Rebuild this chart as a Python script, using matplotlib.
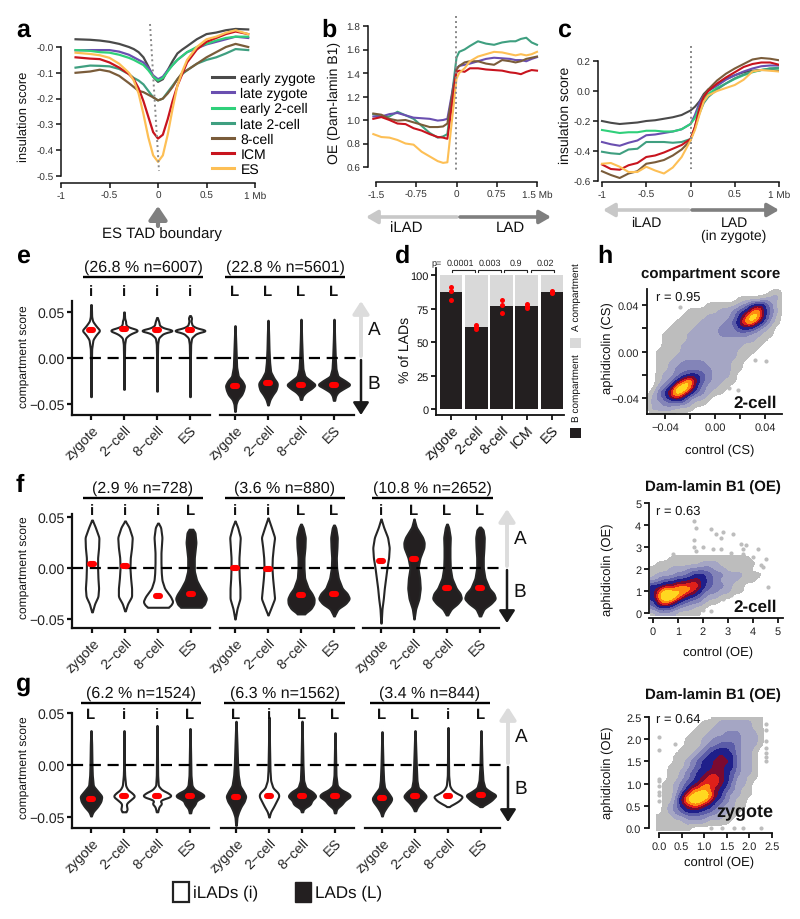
import numpy as np
import matplotlib
matplotlib.use("Agg")
import matplotlib.pyplot as plt
from matplotlib.colors import ListedColormap, BoundaryNorm
from matplotlib.patches import Rectangle
from matplotlib.lines import Line2D

plt.rcParams['font.family'] = ['Liberation Sans', 'DejaVu Sans']
plt.rcParams['text.hinting'] = 'no_hinting'
plt.rcParams['text.hinting_factor'] = 1
W, H = 800, 920
DARK = '#231f20'

# ---------- panel a ----------
A_STAGES = ['early zygote', 'late zygote', 'early 2-cell', 'late 2-cell', '8-cell', 'ICM', 'ES']
A_COLORS = ['#4a4a4a', '#6a4fb0', '#2fd07a', '#3f9f80', '#7a5c3a', '#c8141e', '#fdbf55']
A_X = [-.85,-.7,-.6,-.5,-.4,-.3,-.25,-.2,-.15,-.1,-.05,0,.05,.1,.15,.2,.25,.3,.4,.5,.6,.7,.8,.93]
A_EZ = [.03,.028,.025,.02,.012,0,-.008,-.02,-.04,-.075,-.115,-.135,-.125,-.09,-.055,-.025,-.01,.003,.03,.05,.056,.065,.07,.068]
A_LZ = [-.013,-.012,-.012,-.012,-.018,-.03,-.04,-.05,-.06,-.08,-.11,-.125,-.115,-.09,-.07,-.05,-.035,-.02,-.005,.01,.02,.03,.04,.035]
A_E2 = [-.012,-.015,-.02,-.022,-.03,-.042,-.05,-.06,-.07,-.09,-.115,-.13,-.12,-.095,-.07,-.05,-.035,-.02,0,.012,.025,.035,.04,.04]
A_L2 = [-.08,-.072,-.073,-.075,-.085,-.105,-.12,-.13,-.145,-.17,-.195,-.207,-.2,-.175,-.15,-.125,-.105,-.09,-.065,-.05,-.04,-.025,-.008,-.012]
A_8C = [-.1,-.095,-.088,-.095,-.112,-.14,-.155,-.17,-.175,-.185,-.195,-.207,-.2,-.18,-.155,-.125,-.1,-.09,-.065,-.04,-.02,0,.012,0]
A_ICM = [-.04,-.045,-.047,-.06,-.08,-.105,-.125,-.16,-.21,-.27,-.33,-.355,-.34,-.28,-.21,-.15,-.105,-.06,-.01,.02,.035,.05,.06,.05]
A_ES = [-.022,-.027,-.032,-.042,-.065,-.1,-.13,-.18,-.26,-.35,-.42,-.445,-.42,-.34,-.24,-.15,-.095,-.05,0,.03,.04,.055,.065,.05]
A_SERIES = [A_EZ, A_LZ, A_E2, A_L2, A_8C, A_ICM, A_ES]

# ---------- panel b ----------
B_X = [-1.55,-1.4,-1.25,-1.1,-.95,-.8,-.65,-.5,-.35,-.25,-.17,0,.05,.15,.25,.4,.55,.7,.85,1,1.1,1.2,1.3,1.4,1.5]
B_L2 = [1.05,1.03,1.03,1.07,1.04,1.01,.95,.89,.85,.86,.88,1.53,1.58,1.6,1.63,1.67,1.65,1.64,1.66,1.67,1.67,1.69,1.7,1.66,1.64]
B_LZ = [1.03,1.03,1.05,1.06,1.04,1.02,1.015,1.01,.995,1.0,1.01,1.44,1.46,1.47,1.48,1.5,1.52,1.53,1.525,1.52,1.51,1.51,1.5,1.52,1.535]
B_8C = [1.055,1.045,1.01,.995,1.0,.98,.96,.94,.94,.945,.97,1.43,1.46,1.49,1.5,1.5,1.48,1.47,1.51,1.5,1.49,1.5,1.52,1.53,1.54]
B_ICM = [1.01,1.025,1.0,.97,.965,.93,.91,.88,.855,.85,.84,1.41,1.42,1.41,1.44,1.44,1.43,1.425,1.42,1.405,1.4,1.39,1.41,1.425,1.42]
B_ES = [.88,.855,.85,.83,.80,.79,.73,.69,.65,.635,.64,1.35,1.4,1.44,1.5,1.54,1.56,1.58,1.575,1.56,1.55,1.56,1.55,1.56,1.58]
B_SERIES = [(B_L2, 3), (B_LZ, 1), (B_8C, 4), (B_ICM, 5), (B_ES, 6)]

# ---------- panel c ----------
C_X = [-1,-.9,-.8,-.7,-.6,-.5,-.4,-.3,-.2,-.1,0,.05,.1,.15,.2,.3,.4,.5,.6,.7,.8,.9,1]
C_EZ = [-.2,-.212,-.22,-.215,-.21,-.2,-.195,-.185,-.175,-.16,-.13,-.105,-.07,-.02,.01,.04,.08,.105,.125,.135,.14,.14,.135]
C_E2 = [-.26,-.27,-.28,-.275,-.275,-.265,-.265,-.27,-.27,-.255,-.22,-.18,-.11,-.06,-.02,.02,.05,.08,.105,.125,.14,.15,.15]
C_LZ = [-.34,-.355,-.365,-.345,-.33,-.295,-.29,-.28,-.27,-.255,-.22,-.16,-.08,-.03,0,.035,.075,.105,.13,.15,.165,.17,.17]
C_L2 = [-.405,-.415,-.42,-.39,-.385,-.34,-.34,-.34,-.345,-.34,-.32,-.25,-.15,-.08,-.04,.01,.05,.085,.11,.13,.14,.15,.155]
C_8C = [-.535,-.56,-.58,-.55,-.535,-.485,-.475,-.46,-.43,-.39,-.33,-.24,-.12,-.03,.01,.07,.115,.15,.18,.21,.22,.215,.205]
C_ICM = [-.49,-.52,-.525,-.495,-.48,-.44,-.43,-.41,-.385,-.36,-.32,-.24,-.12,-.04,0,.05,.09,.125,.16,.18,.19,.19,.175]
C_ES = [-.485,-.48,-.505,-.54,-.54,-.505,-.53,-.55,-.51,-.44,-.33,-.26,-.16,-.07,-.03,0,.02,.04,.075,.13,.14,.135,.13]
C_SERIES = [(C_EZ, 0), (C_LZ, 1), (C_E2, 2), (C_L2, 3), (C_8C, 4), (C_ICM, 5), (C_ES, 6)]

# ---------- panel d ----------
D_CATS = ['zygote', '2-cell', '8-cell', 'ICM', 'ES']
D_B = [87, 61, 77, 77, 87]
D_DOTS = [[91, 88, 81], [62.5, 61, 60], [81, 77.5, 72], [78, 77, 75.5], [88, 87, 86.5]]
D_P = ['0.0001', '0.003', '0.9', '0.02']

# ---------- violins: (class, y knots, half-width knots, median) ----------
V_CATS = ['zygote', '2\u2212cell', '8\u2212cell', 'ES']
E1 = [
 ('i', [-.042,-.01,.01,.02,.025,.03,.035,.04,.045,.058], [.01,.01,.02,.06,.15,.27,.15,.05,.02,.01], .03),
 ('i', [-.034,-.005,.015,.022,.026,.03,.032,.034,.037,.04,.043,.05], [.01,.01,.02,.05,.18,.45,.3,.1,.05,.05,.02,.01], .031),
 ('i', [-.036,-.005,.015,.022,.027,.03,.032,.035,.04,.044], [.01,.01,.02,.05,.2,.55,.25,.08,.05,.01], .03),
 ('i', [-.042,-.005,.015,.022,.027,.03,.032,.035,.04,.044,.046], [.01,.01,.02,.05,.2,.55,.25,.07,.03,.05,.01], .03)]
E2 = [
 ('L', [-.058,-.05,-.045,-.04,-.035,-.03,-.025,-.02,-.01,0,.01,.02,.035], [.01,.03,.08,.2,.26,.29,.22,.1,.05,.04,.03,.02,.005], -.03),
 ('L', [-.051,-.045,-.04,-.035,-.03,-.027,-.022,-.015,-.005,.01,.025,.041], [.01,.06,.14,.24,.28,.28,.18,.08,.05,.03,.02,.005], -.027),
 ('L', [-.045,-.041,-.037,-.033,-.029,-.025,-.02,-.012,0,.02,.042], [.02,.05,.15,.32,.44,.3,.12,.06,.04,.02,.005], -.029),
 ('L', [-.046,-.041,-.037,-.033,-.029,-.025,-.02,-.012,0,.02,.042], [.02,.05,.12,.3,.5,.35,.12,.06,.04,.02,.005], -.029)]
F1 = [
 ('i', [-.043,-.035,-.028,-.02,-.01,0,.01,.02,.03,.04,.047], [.01,.08,.18,.2,.18,.17,.17,.2,.21,.1,.01], .004),
 ('i', [-.042,-.035,-.028,-.02,-.01,0,.01,.02,.03,.04,.046], [.01,.08,.2,.2,.17,.15,.16,.2,.22,.12,.01], .002),
 ('i', [-.0385,-.037,-.033,-.028,-.02,-.012,-.005,.005,.015,.03,.04,.044], [.3,.38,.45,.38,.2,.12,.1,.09,.09,.12,.08,.01], -.027),
 ('L', [-.0385,-.036,-.03,-.026,-.02,-.012,-.003,.01,.025,.035,.038], [.3,.4,.47,.42,.3,.17,.1,.1,.15,.12,.05], -.025)]
F2 = [
 ('i', [-.05,-.04,-.03,-.02,-.01,0,.01,.02,.03,.04,.046], [.005,.06,.15,.15,.13,.12,.12,.14,.16,.08,.005], 0),
 ('i', [-.046,-.04,-.03,-.02,-.01,0,.01,.02,.03,.04,.049], [.005,.08,.2,.17,.14,.12,.13,.16,.2,.1,.005], -.001),
 ('L', [-.045,-.04,-.035,-.03,-.025,-.02,-.01,0,.01,.02,.03,.04,.043], [.1,.3,.39,.4,.33,.22,.11,.09,.09,.12,.13,.06,.01], -.026),
 ('L', [-.047,-.04,-.035,-.03,-.025,-.02,-.01,0,.01,.02,.03,.04,.042], [.01,.12,.35,.47,.4,.25,.13,.08,.07,.09,.1,.05,.01], -.025)]
F3 = [
 ('i', [-.054,-.04,-.03,-.02,-.01,0,.01,.02,.03,.04,.048], [.005,.03,.07,.1,.14,.18,.23,.25,.2,.08,.005], .007),
 ('L', [-.05,-.04,-.03,-.02,-.01,0,.01,.02,.025,.03,.04,.048], [.005,.05,.15,.19,.17,.12,.18,.3,.31,.26,.07,.005], .009),
 ('L', [-.046,-.04,-.035,-.03,-.025,-.02,-.01,0,.01,.02,.03,.04,.043], [.02,.13,.32,.44,.4,.28,.15,.1,.09,.09,.1,.05,.01], -.02),
 ('L', [-.047,-.04,-.035,-.03,-.025,-.02,-.01,0,.01,.02,.03,.038,.04], [.02,.12,.33,.47,.42,.28,.15,.1,.1,.12,.13,.09,.01], -.02)]
G1 = [
 ('L', [-.049,-.045,-.04,-.035,-.03,-.025,-.02,-.01,0,.02,.033], [.01,.06,.2,.3,.33,.2,.07,.04,.03,.02,.005], -.033),
 ('i', [-.045,-.043,-.04,-.037,-.034,-.03,-.027,-.024,-.02,-.01,0,.033], [.05,.1,.08,.07,.18,.33,.25,.12,.05,.02,.01,.005], -.03),
 ('i', [-.045,-.04,-.037,-.034,-.03,-.027,-.024,-.02,-.01,.038], [.02,.06,.15,.08,.45,.35,.15,.04,.02,.005], -.03),
 ('L', [-.046,-.042,-.038,-.034,-.03,-.027,-.024,-.02,-.01,.035], [.02,.05,.15,.2,.45,.35,.15,.06,.03,.005], -.03)]
G2 = [
 ('L', [-.058,-.05,-.045,-.04,-.035,-.03,-.025,-.02,-.01,0,.02,.042], [.01,.03,.08,.15,.25,.3,.22,.12,.07,.05,.03,.005], -.031),
 ('i', [-.05,-.045,-.04,-.035,-.03,-.027,-.022,-.015,-.005,.02,.046], [.005,.05,.14,.22,.3,.28,.12,.05,.03,.015,.005], -.03),
 ('L', [-.045,-.042,-.038,-.034,-.03,-.026,-.022,-.015,0,.042], [.02,.05,.25,.3,.43,.33,.12,.05,.03,.005], -.03),
 ('L', [-.046,-.042,-.038,-.034,-.03,-.027,-.024,-.02,-.01,.031], [.02,.05,.2,.3,.48,.4,.2,.07,.03,.005], -.03)]
G3 = [
 ('L', [-.049,-.045,-.04,-.035,-.032,-.028,-.022,-.015,0,.032], [.01,.05,.15,.27,.3,.22,.08,.05,.03,.005], -.032),
 ('L', [-.044,-.04,-.036,-.033,-.03,-.026,-.022,-.015,0,.033], [.02,.08,.18,.28,.35,.25,.1,.06,.04,.005], -.03),
 ('i', [-.04,-.037,-.034,-.03,-.027,-.024,-.02,-.01,.036], [.02,.2,.35,.45,.25,.12,.05,.02,.005], -.03),
 ('L', [-.04,-.037,-.034,-.029,-.026,-.022,-.015,0,.033], [.02,.18,.32,.47,.3,.12,.06,.03,.005], -.029)]

# ---------- panel h: density levels (0 empty ... 9 peak) ----------
H_LEVELS = ['#bdbdbd', '#a5a6c4', '#8384b8', '#5b5ca8', '#1f1f8a', '#7a0a30', '#e0201a', '#ff8a10', '#ffd820']
H1_X = (-.055, .055)
H1_GRID = [
 "00000000000000000000000",
 "00000000000000000000120",
 "00000000000000011112220",
 "00000000001111123565310",
 "00000001111122345785320",
 "00000011112222357985310",
 "00000111122223468864210",
 "00001111222233355532100",
 "00011112222233333221100",
 "00011112222222222211000",
 "00011122222222221110000",
 "00111122222222211100000",
 "00111222222222211000000",
 "00112233332222110000000",
 "00112333333222110000000",
 "00122345543222100000000",
 "00123578643221100000000",
 "00235898532211000000000",
 "01357986432110000000000",
 "02346753221000000000000",
 "02233332110000000000000",
 "02222111000000000000000",
 "00000000000000000000000"]
H1_OUT_X = [-.0175, -.021, -.005, .032, .041, .011, .018, -.028, -.042]
H1_OUT_Y = [.036, .033, .038, -.007, -.008, -.031, -.033, .038, -.002]
H2_X = (0, 5)
H2_GRID = ["0" * 21] * 10 + [
 "000111111111111100000",
 "011111112221111110000",
 "111222333322111100000",
 "122233455433222111000",
 "234455665432221110000",
 "556677775433211000000",
 "579888764332211000000",
 "589986543221100000000",
 "478754332110000000000",
 "355432211000000000000",
 "122211110000000000000"]
H2_OUT_X = [1.65,1.7,2.3,2.5,2.8,3.2,2.7,3.5,3.7,3.6,4.2,2.0,1.65,1.65,1.7,2.4,2.7,3.1,3.6,4.0,4.5,4.4,4.3,4.6,.35,.8,2,2.3,3.1,2.8]
H2_OUT_Y = [4.2,3.85,3.8,3.6,3.7,3.6,3.4,3.15,3.1,2.9,2.9,3.0,3.3,3.0,2.8,2.9,2.9,2.75,2.7,2.55,2.45,2.1,2.2,1.2,2.25,2.7,.15,.1,.8,.65]
H3_X = (0, 2.5)
H3_GRID = [
 "000000000011111111100",
 "000000001112222221100",
 "000000011122222221100",
 "000000111222333222100",
 "000001112233333222100",
 "000001112334443222100",
 "000011123455543221000",
 "000111234556553221000",
 "000112345566653221000",
 "001112345566553221000",
 "001123455666543221000",
 "001123456776542211000",
 "011234567776532210000",
 "011235778765432110000",
 "011257899865322110000",
 "011368998754321100000",
 "012356776543221100000",
 "012345554432211000000",
 "111223333222110000000",
 "111112222111100000000",
 "111111000000000000000"]
H3_OUT_X = [0,0,0,0,0,0,0,0,.35,2.37,2.37,2.37,2.37,2.37,2.37,2.37,1.15,1.4,1.65,2.25,1.85]
H3_OUT_Y = [2.05,1.75,1.1,1.05,.95,.8,.75,.6,1.9,2.35,2.2,1.95,1.8,1.7,1.6,1.5,0,0,0,0,0]

fig = plt.figure(figsize=(W / 100, H / 100), dpi=100)
ov = fig.add_axes([0, 0, 1, 1], zorder=10)
ov.set_xlim(0, W); ov.set_ylim(H, 0); ov.axis('off'); ov.patch.set_visible(False)


def axpx(x0, ytop, x1, ybot):
    return fig.add_axes([x0 / W, 1 - ybot / H, (x1 - x0) / W, (ybot - ytop) / H])


def lin(p0, v0, p1, v1, p):
    return v0 + (p - p0) * (v1 - v0) / (p1 - p0)


def style(ax, lw=1.1, tick=7.4, color='#333333', length=3.5):
    for s in ('top', 'right'):
        ax.spines[s].set_visible(False)
    for s in ('left', 'bottom'):
        ax.spines[s].set_linewidth(lw)
        ax.spines[s].set_color('#111111')
    ax.tick_params(labelsize=tick, width=lw, length=length, pad=2, labelcolor=color, color='#111111')
    ax.patch.set_visible(False)


def arrow(x0, y0, x1, y1, color, lw=2.6, ms=11, hw=0.36):
    ov.annotate('', xy=(x1, y1), xytext=(x0, y0),
                arrowprops=dict(arrowstyle=f'-|>,head_width={hw},head_length=0.62', color=color, lw=lw,
                                mutation_scale=ms, shrinkA=0, shrinkB=0))


def letter(s, x, y):
    ov.text(x, y, s, fontsize=18, fontweight='bold', va='baseline', ha='left', color='black')


def ylab(ax, text, xpx, ypx, box, size):
    x0, ytop, x1, ybot = box
    ax.set_ylabel(text, fontsize=size, color='#111111', va='center')
    ax.yaxis.set_label_coords((xpx - x0) / (x1 - x0), (ybot - ypx) / (ybot - ytop))


def xlab(ax, text, xpx, ypx, box, size):
    x0, ytop, x1, ybot = box
    ax.set_xlabel(text, fontsize=size, color='#111111', va='center')
    ax.xaxis.set_label_coords((xpx - x0) / (x1 - x0), (ybot - ypx) / (ybot - ytop))


# panel a
box = (61, 15, 255, 184)
ax = axpx(*box)
ax.set_xlim(-1, 1)
ax.set_ylim(lin(48, 0, 177, -.5, 184), lin(48, 0, 177, -.5, 15))
for ys, c, n in zip(A_SERIES, A_COLORS, A_STAGES):
    ax.plot(A_X, ys, color=c, lw=1.6, label=n, solid_joinstyle='round')
style(ax)
ax.spines['left'].set_bounds(-.5, 0)
ax.set_yticks([0, -.1, -.2, -.3, -.4, -.5], ['-0.0', '-0.1', '-0.2', '-0.3', '-0.4', '-0.5'])
ax.set_xticks([-1, -.5, 0, .5, 1], ['-1', '-0.5', '0', '0.5', '1 Mb'])
ylab(ax, 'insulation score', 24, 117, box, 9.6)
ax.legend(handles=[Line2D([], [], color=c, lw=2.2) for c in A_COLORS], labels=A_STAGES,
          loc='upper left', bbox_to_anchor=(212 / W, 1 - 73 / H), bbox_transform=fig.transFigure,
          borderaxespad=0, borderpad=0, frameon=False, fontsize=10, labelspacing=.15,
          handlelength=1.6, handletextpad=.45)
ov.plot([150, 159], [25, 172], color='#888888', lw=1.4, ls=(0, (1, 1.6)))
arrow(158, 227, 158, 207, '#808080', lw=3, ms=13, hw=.42)
ov.text(162, 234, 'ES TAD boundary', fontsize=10.8, ha='center', va='center', color='#111111')

# panel b
box = (368, 10, 537, 183)
ax = axpx(*box)
ax.set_xlim(lin(376, -1.5, 537, 1.5, 368), 1.5)
ax.set_ylim(lin(27, 1.8, 168, .6, 183), lin(27, 1.8, 168, .6, 10))
for ys, i in B_SERIES:
    ax.plot(B_X, ys, color=A_COLORS[i], lw=1.5, clip_on=False)
style(ax)
ax.spines['left'].set_bounds(.6, 1.8)
ax.spines['bottom'].set_bounds(-1.5, 1.5)
ax.set_yticks([.6, .8, 1, 1.2, 1.4, 1.6, 1.8], ['0.6', '0.8', '1.0', '1.2', '1.4', '1.6', '1.8'])
ax.set_xticks([-1.5, -.75, 0, .75, 1.5], ['-1.5', '-0.75', '0', '0.75', '1.5 Mb'])
ylab(ax, 'OE (Dam-lamin B1)', 334, 103, box, 10)
ov.plot([456, 456], [17, 171], color='#888888', lw=1.4, ls=(0, (1, 1.6)))
arrow(457, 218, 366, 218, '#c8c8c8')
arrow(460, 218, 551, 218, '#7f7f7f')
ov.text(406, 228, 'iLAD', fontsize=10.6, ha='center', va='center', color='#111111')
ov.text(510, 228, 'LAD', fontsize=10.6, ha='center', va='center', color='#111111')

# panel c
box = (598, 30, 779, 183)
ax = axpx(*box)
ax.set_xlim(lin(602, -1, 779, 1, 598), 1)
ax.set_ylim(lin(62, .2, 182, -.6, 183), lin(62, .2, 182, -.6, 30))
for ys, i in C_SERIES:
    ax.plot(C_X, ys, color=A_COLORS[i], lw=1.5)
style(ax)
ax.spines['left'].set_bounds(-.6, .2)
ax.spines['bottom'].set_bounds(-1, 1)
ax.set_yticks([-.6, -.4, -.2, 0, .2], ['-0.6', '-0.4', '-0.2', '0.0', '0.2'])
ax.set_xticks([-1, -.5, 0, .5, 1], ['-1', '-0.5', '0', '0.5', '1 Mb'])
ylab(ax, 'insulation score', 565, 115, box, 10)
ov.plot([691, 691], [47, 170], color='#888888', lw=1.4, ls=(0, (1, 1.6)))
arrow(689, 211, 603, 211, '#c8c8c8')
arrow(692, 211, 779, 211, '#7f7f7f')
ov.text(646, 223, 'iLAD', fontsize=10, ha='center', va='center', color='#111111')
ov.text(734, 223, 'LAD', fontsize=10, ha='center', va='center', color='#111111')
ov.text(734, 236, '(in zygote)', fontsize=10, ha='center', va='center', color='#111111')

# panel d
box = (436, 269, 564, 416)
ax = axpx(*box)
pos = np.arange(1, 6)
ax.set_xlim(lin(451, 1, 552, 5, 436), lin(451, 1, 552, 5, 564))
ax.set_ylim(lin(276, 100, 410, 0, 416), lin(276, 100, 410, 0, 269))
ax.bar(pos, D_B, width=.9, color=DARK, linewidth=0)
ax.bar(pos, 100 - np.array(D_B), bottom=D_B, width=.9, color='#d9d9d9', linewidth=0)
for p, dots in zip(pos, D_DOTS):
    ax.scatter([p] * len(dots), dots, s=13, color='red', linewidths=0, zorder=3)
style(ax, lw=1.3, tick=8)
ax.set_yticks([0, 25, 50, 75, 100])
ax.tick_params(axis='y', labelcolor='#111111')
ax.set_xticks(pos, D_CATS, rotation=45, ha='right', rotation_mode='anchor', fontsize=10, color='#111111')
ylab(ax, '% of LADs', 405, 350, box, 10)
for s, a, b, tx in zip(D_P, [452, 478, 504, 531], [475, 501, 527, 554], [460, 490, 516, 545]):
    ov.plot([a, a, b, b], [273, 271, 271, 273], color='#222222', lw=.8)
    ov.text(tx, 264, s, fontsize=6.7, ha='center', va='center', color='#222222')
ov.text(431, 264, 'p=', fontsize=6.7, ha='left', va='center', color='#222222')
ov.text(576, 297, 'A compartment', fontsize=6.9, rotation=90, ha='center', va='center', color='#111111')
ov.text(576, 388, 'B compartment', fontsize=6.9, rotation=90, ha='center', va='center', color='#111111')
ov.add_patch(Rectangle((570, 339), 11, 10, color='#d9d9d9', lw=0))
ov.add_patch(Rectangle((570, 429), 11, 10, color=DARK, lw=0))


def rounded(ys, ws):
    """Round off the corners between the read knots of a violin outline."""
    yy = np.arange(ys[0], ys[-1] + 1e-4, 1e-4)
    ww = np.interp(yy, ys, ws)
    k = 31
    pad = np.pad(ww, k // 2, mode='edge')
    return yy, np.convolve(pad, np.ones(k) / k, mode='valid')


# violin facets
def facet(x0, x1, cat0, dcat, y0, y05, ytop, ybot, violins, first, extend, head, letter_y):
    a = axpx(x0, ytop, x1, ybot)
    a.set_xlim(1 + (x0 - cat0) / dcat, 1 + (x1 - cat0) / dcat)
    s = (y0 - y05) / .05
    a.set_ylim(-(ybot - y0) / s, (y0 - ytop) / s)
    for k, (cls, ys, ws, med) in enumerate(violins):
        c = k + 1
        yy, ww = rounded(ys, ws)
        a.fill_betweenx(yy, c - ww, c + ww, facecolor='white' if cls == 'i' else DARK,
                        edgecolor='#262626', lw=1.5, clip_on=False, zorder=2)
        a.plot([c - .05, c + .05], [med, med], color='red', lw=4.4, solid_capstyle='round', zorder=6, clip_on=False)
        ov.text(cat0 + k * dcat, letter_y, cls, fontsize=11, fontweight='bold', ha='center', va='center', color='#111111')
    a.axhline(0, xmin=0, xmax=1 + extend / (x1 - x0), color='black', lw=1.6, ls=(0, (5, 3)), zorder=5, clip_on=False)
    style(a, lw=1.6, tick=10, color='#222222')
    a.set_xticks([1, 2, 3, 4], V_CATS, rotation=45, ha='right', rotation_mode='anchor', fontsize=10, color='#222222')
    if first:
        a.set_yticks([-.05, 0, .05], ['\u22120.05', '0.00', '0.05'])
    else:
        a.spines['left'].set_visible(False)
        a.set_yticks([])
    title, hx0, hx1, hy = head
    ov.plot([hx0, hx1], [hy, hy], color='black', lw=1.7, solid_capstyle='butt')
    ov.text((hx0 + hx1) / 2, hy - 10, title, fontsize=11.4, ha='center', va='center', color='#111111')
    return a, (x0, ytop, x1, ybot)


def side(x, y0, ytop, ybot, ya, yb, xt):
    arrow(x, y0 - 2, x, ytop, '#dcdcdc', lw=2.8, ms=12, hw=.4)
    arrow(x, y0 + 2, x, ybot, '#1a1a1a', lw=1.8, ms=12, hw=.4)
    ov.text(xt, ya, 'A', fontsize=14, ha='center', va='center', color='#111111')
    ov.text(xt, yb, 'B', fontsize=14, ha='center', va='center', color='#111111')


a, b = facet(72, 210, 91, 33, 359, 313, 302, 416, E1, True, 10, ('(26.8 % n=6007)', 83, 203, 278), 292)
ylab(a, 'compartment score', 24, 357, b, 8.9)
facet(220, 354, 235, 33, 359, 313, 302, 416, E2, False, 4, ('(22.8 % n=5601)', 225, 345, 278), 292)
side(361, 359, 302, 416, 330, 384, 374)

a, b = facet(72, 210, 92, 33, 569, 518, 515, 629, F1, True, 10, ('(2.9 % n=728)', 83, 203, 499), 511)
ylab(a, 'compartment score', 24, 568, b, 8.9)
facet(220, 354, 235, 33, 569, 518, 515, 629, F2, False, 9, ('(3.6 % n=880)', 225, 345, 499), 511)
facet(363, 499, 381, 33, 569, 518, 515, 629, F3, False, 1, ('(10.8 % n=2652)', 372, 493, 499), 511)
side(507, 569, 510, 624, 539, 592, 520)

a, b = facet(72, 209, 91, 33, 766, 714, 714, 829, G1, True, 12, ('(6.2 % n=1524)', 81, 201, 704), 715)
ylab(a, 'compartment score', 24, 768, b, 8.9)
facet(221, 354, 236, 33, 766, 714, 714, 829, G2, False, 11, ('(6.3 % n=1562)', 224, 345, 704), 715)
facet(365, 500, 382, 33, 766, 714, 714, 829, G3, False, 1, ('(3.4 % n=844)', 370, 490, 704), 715)
side(508, 766, 708, 823, 737, 789, 521)

ov.add_patch(Rectangle((173, 883), 16, 20, facecolor='white', edgecolor='#222222', lw=1.6))
ov.text(193, 893, 'iLADs (i)', fontsize=12.5, ha='left', va='center', color='#111111')
ov.add_patch(Rectangle((295, 883), 16, 20, facecolor=DARK, edgecolor=DARK, lw=1))
ov.text(315, 893, 'LADs (L)', fontsize=12.5, ha='left', va='center', color='#111111')

# panel h
cmap = ListedColormap(H_LEVELS)
cmap.set_under((0, 0, 0, 0))
norm = BoundaryNorm([.5, 1.5, 2.5, 3.5, 4.5, 5.5, 6.3, 7, 7.8, 10], cmap.N)


def density(ax, grid, xr, outx, outy):
    m = np.array([[int(ch) for ch in row] for row in grid], dtype=float)
    ny, nx = m.shape
    dx = (xr[1] - xr[0]) / (nx - 1)
    ax.imshow(m, cmap=cmap, norm=norm, interpolation='bicubic', interpolation_stage='data', aspect='auto',
              extent=(xr[0] - dx / 2, xr[1] + dx / 2, xr[0] - dx / 2, xr[1] + dx / 2), origin='upper', zorder=2)
    ax.scatter(outx, outy, s=9, color='#bdbdbd', linewidths=0, zorder=1, clip_on=False)


def hpanel(box, xl, yl, xt, yt, grid, xr, outx, outy):
    a = axpx(*box)
    density(a, grid, xr, outx, outy)
    a.set_xlim(*xl); a.set_ylim(*yl)
    style(a, lw=1.3, tick=7.6, color='#222222')
    a.set_xticks(xt[0], xt[1]); a.set_yticks(yt[0], yt[1])
    return a


ticks = [-.04, -.02, 0, .02, .04]
labs = ['\u22120.04', '', '0.00', '', '0.04']
box = (647, 290, 782, 415)
ax = hpanel(box, (lin(665, -.04, 765, .04, 647), lin(665, -.04, 765, .04, 782)),
            (lin(399, -.04, 306, .04, 415), lin(399, -.04, 306, .04, 290)),
            (ticks, labs), (ticks, labs), H1_GRID, H1_X, H1_OUT_X, H1_OUT_Y)
ylab(ax, 'aphidicolin (CS)', 608, 348, box, 9.5)
xlab(ax, 'control (CS)', 720, 451, box, 9.5)

box = (649, 500, 783, 619)
vals = [0, 1, 2, 3, 4, 5]
ax = hpanel(box, (lin(653, 0, 778, 5, 649), lin(653, 0, 778, 5, 783)),
            (lin(614, 0, 504, 5, 619), lin(614, 0, 504, 5, 500)),
            (vals, [str(v) for v in vals]), (vals, [str(v) for v in vals]), H2_GRID, H2_X, H2_OUT_X, H2_OUT_Y)
ax.spines['left'].set_bounds(0, 5)
ylab(ax, 'aphidicolin (OE)', 608, 570, box, 9.5)
xlab(ax, 'control (OE)', 718, 653, box, 9.5)

box = (649, 718, 772, 834)
vals = [0, .5, 1, 1.5, 2, 2.5]
vl = ['0.0', '0.5', '1.0', '1.5', '2.0', '2.5']
ax = hpanel(box, (lin(659, 0, 772, 2.5, 649), 2.5), (lin(829, 0, 718, 2.5, 834), 2.5),
            (vals, vl), (vals, vl), H3_GRID, H3_X, H3_OUT_X, H3_OUT_Y)
ax.spines['left'].set_bounds(0, 2.5)
ax.spines['bottom'].set_bounds(0, 2.5)
ylab(ax, 'aphidicolin (OE)', 608, 773, box, 9.5)
xlab(ax, 'control (OE)', 719, 863, box, 9.5)

for t, x, y in [('compartment score', 711, 274), ('Dam-lamin B1 (OE)', 713, 487), ('Dam-lamin B1 (OE)', 713, 695)]:
    ov.text(x, y, t, fontsize=11.1, fontweight='bold', ha='center', va='center', color='#111111')
for t, y in [('r = 0.95', 298), ('r = 0.63', 512), ('r = 0.64', 720)]:
    ov.text(656, y, t, fontsize=9.5, ha='left', va='center', color='#111111')
ov.text(777, 403, '2-cell', fontsize=12.5, fontweight='bold', ha='right', va='center', color='#111111')
ov.text(777, 607, '2-cell', fontsize=12.5, fontweight='bold', ha='right', va='center', color='#111111')
ov.text(773, 813, 'zygote', fontsize=12.7, fontweight='bold', ha='right', va='center', color='#111111')

for s, x, y in [('a', 16, 37), ('b', 321, 37), ('c', 557, 37), ('d', 395, 263), ('e', 16, 263),
                ('f', 16, 492), ('g', 16, 691), ('h', 597, 263)]:
    letter(s, x, y)

fig.savefig('out.png', dpi=100)
